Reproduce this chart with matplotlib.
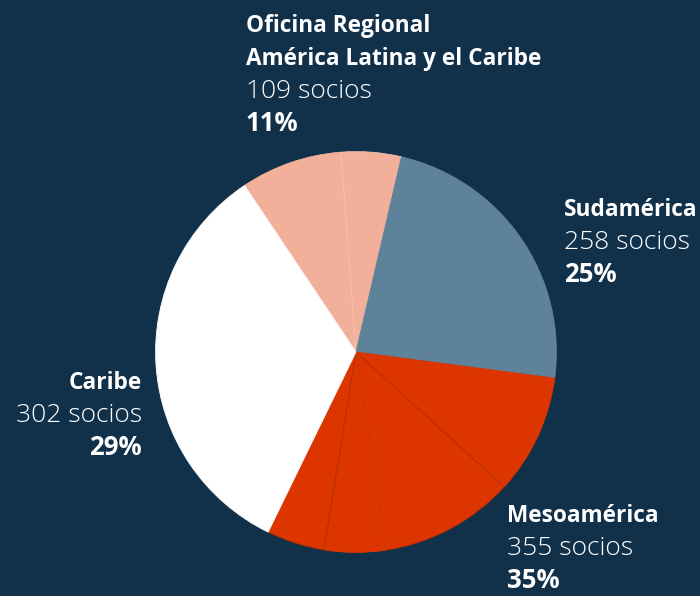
import matplotlib.pyplot as plt

# pie wedges as drawn (degrees of arc, clockwise from the top-left salmon edge)
wedge_deg = [29.5, 17.4, 84.4, 34.8, 39.2, 17.7, 16.8, 120.2]
wedge_col = ["#f2b09a", "#f2b09a", "#5d829a", "#dc3500", "#dc3500", "#dc3500", "#dc3500", "#ffffff"]
# outline colour per wedge; later wedges paint over the shared edge of earlier ones
wedge_edge = ["#f2b09a", "#f7c6b5", "#5d829a", "#dc3500", "#b02e00", "#dc3500", "#b02e00", "#ffffff"]

regions = ["Oficina Regional\nAmérica Latina y el Caribe", "Sudamérica", "Mesoamérica", "Caribe"]
socios = [109, 258, 355, 302]
pcts = ["11%", "25%", "35%", "29%"]

bg = "#11304a"
W, H = 700, 596

fig = plt.figure(figsize=(W / 100, H / 100), dpi=100, facecolor=bg)
cx, cy, r = 356, 352, 201
ax = fig.add_axes([(cx - r) / W, (H - cy - r) / H, 2 * r / W, 2 * r / H])
ax.set_facecolor(bg)
wedges, _ = ax.pie(wedge_deg, colors=wedge_col, startangle=123.8, counterclock=False,
                   radius=0.997, wedgeprops=dict(linewidth=0.6))
for w, ec in zip(wedges, wedge_edge):
    w.set_edgecolor(ec)
ax.set_xlim(-1, 1)
ax.set_ylim(-1, 1)
ax.axis("off")

fam = ["Open Sans", "DejaVu Sans"]


def block(x, y, name, n, p, ha="left"):
    # y is the baseline of the first line, in pixels from the top
    lines = name.split("\n")
    step = 33
    for i, t in enumerate(lines):
        fig.text(x / W, 1 - (y + i * step) / H, t, color="white", fontsize=16.3,
                 fontweight="bold", family=fam, ha=ha, va="baseline")
    k = len(lines)
    fig.text(x / W, 1 - (y + k * step) / H, f"{n} socios", color="white", fontsize=19,
             fontweight="light", family=fam, ha=ha, va="baseline")
    fig.text(x / W, 1 - (y + (k + 1) * step) / H, p, color="white", fontsize=18.5,
             fontweight="bold", family=fam, ha=ha, va="baseline")


block(246, 32, regions[0], socios[0], pcts[0])
block(564, 216, regions[1], socios[1], pcts[1])
block(507, 522, regions[2], socios[2], pcts[2])
block(142, 389, regions[3], socios[3], pcts[3], ha="right")

fig.savefig("out.png", dpi=100, facecolor=bg)
